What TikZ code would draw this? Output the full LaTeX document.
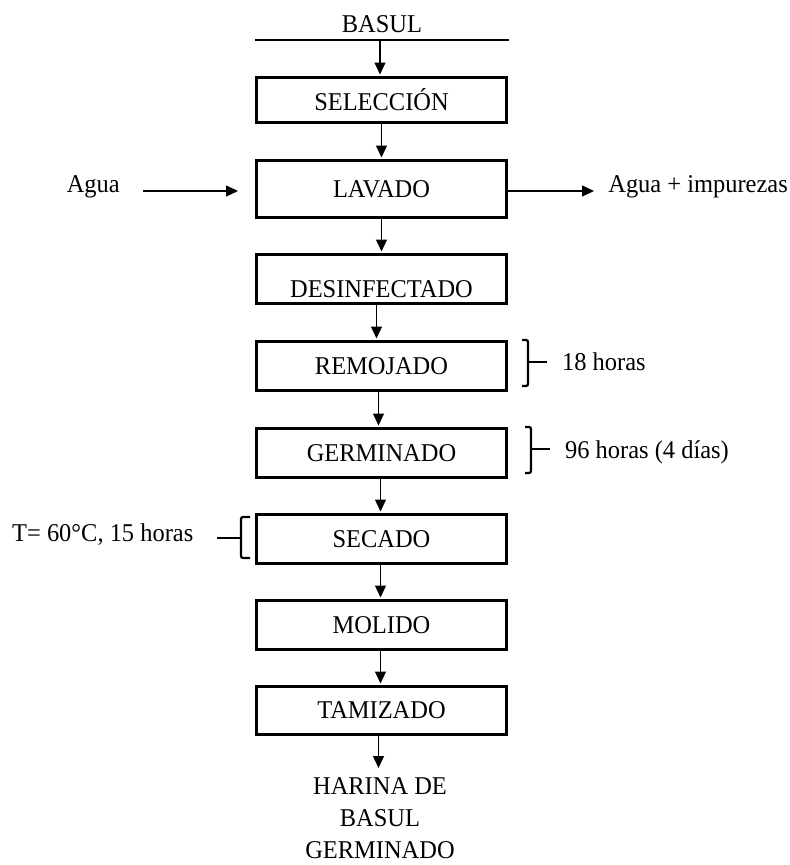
\documentclass[tikz,border=0pt]{standalone}
\usepackage{fontspec}
\setmainfont[FakeStretch=0.955]{Liberation Serif}
\usetikzlibrary{arrows.meta}
\begin{document}
\begin{tikzpicture}[x=1pt,y=-1pt,
  every node/.style={font=\fontsize{25.6}{33}\selectfont, inner sep=0pt},
  stepbox/.style={draw, line width=3pt, minimum width=250pt, minimum height=49pt},
  flow/.style={line width=1.2pt, -{Triangle[length=12pt,width=11pt]}, shorten >=1.5pt},
  brk/.style={line width=2.2pt, rounded corners=2pt}]
\useasboundingbox (0,0) rectangle (790,865);
% input
\node (basul) at (382,24) {BASUL};
\coordinate (ll) at (255,40);
\coordinate (lr) at (509,40);
\draw[line width=1.3pt] (ll) -- (lr);
\coordinate (bin) at (380,40);
% boxes
\node[stepbox, minimum height=45pt] (sel) at (381.5,100) {SELECCIÓN};
\node[stepbox, minimum height=57pt] (lav) at (381.5,189) {LAVADO};
\node[stepbox] (des) at (381.5,279) {\smash{\raisebox{-18pt}{DESINFECTADO}}};
\node[stepbox] (rem) at (381.5,366) {REMOJADO};
\node[stepbox] (ger) at (381.5,453) {GERMINADO};
\node[stepbox] (sec) at (381.5,539) {SECADO};
\node[stepbox] (mol) at (381.5,625) {MOLIDO};
\node[stepbox, minimum height=48pt] (tam) at (381.5,710.5) {TAMIZADO};
\node[align=center, anchor=north, font=\fontsize{25.6}{32}\selectfont] (out) at (380,777) {HARINA DE\\BASUL\\GERMINADO};
% main arrows
\coordinate (outtip) at (378.5,768);
\draw[flow] (bin) -- (bin |- sel.north);
\draw[flow] (sel.south) -- (lav.north);
\draw[flow] (lav.south) -- (des.north);
\draw[flow] ([xshift=-5pt]des.south) -- ([xshift=-5pt]rem.north);
\draw[flow] ([xshift=-3pt]rem.south) -- ([xshift=-3pt]ger.north);
\draw[flow] ([xshift=-1pt]ger.south) -- ([xshift=-1pt]sec.north);
\draw[flow] ([xshift=-1pt]sec.south) -- ([xshift=-1pt]mol.north);
\draw[flow] ([xshift=-1pt]mol.south) -- ([xshift=-1pt]tam.north);
\draw[flow, shorten >=0pt] (outtip |- tam.south) -- (outtip);
% side streams
\node[anchor=base east] (agua) at (120,192) {Agua};
\coordinate (aguastart) at (143,191);
\coordinate (aguatip) at (238,191);
\draw[flow, shorten >=0pt] (aguastart) -- (aguatip);
\node[anchor=base east] (imp) at (788,192) {Agua + impurezas};
\coordinate (imptip) at (594,191);
\draw[flow, shorten >=0pt] (lav.east |- imptip) -- (imptip);
% brackets
\draw[brk] (522,340) -- (528,340) -- (528,386) -- (522,386);
\draw[line width=2.2pt] (528,362) -- (547,362);
\node[anchor=west] (t18) at (562,362) {18 horas};
\draw[brk] (525,427) -- (531,427) -- (531,473) -- (525,473);
\draw[line width=2.2pt] (531,449) -- (550,449);
\node[anchor=west] (t96) at (565,452) {96 horas (4 días)};
\draw[brk] (250,517) -- (241,517) -- (241,558) -- (250,558);
\draw[line width=2.2pt] (217,538) -- (241,538);
\node[anchor=west] (tsec) at (12,535) {T= 60°C, 15 horas};
\end{tikzpicture}
\end{document}
